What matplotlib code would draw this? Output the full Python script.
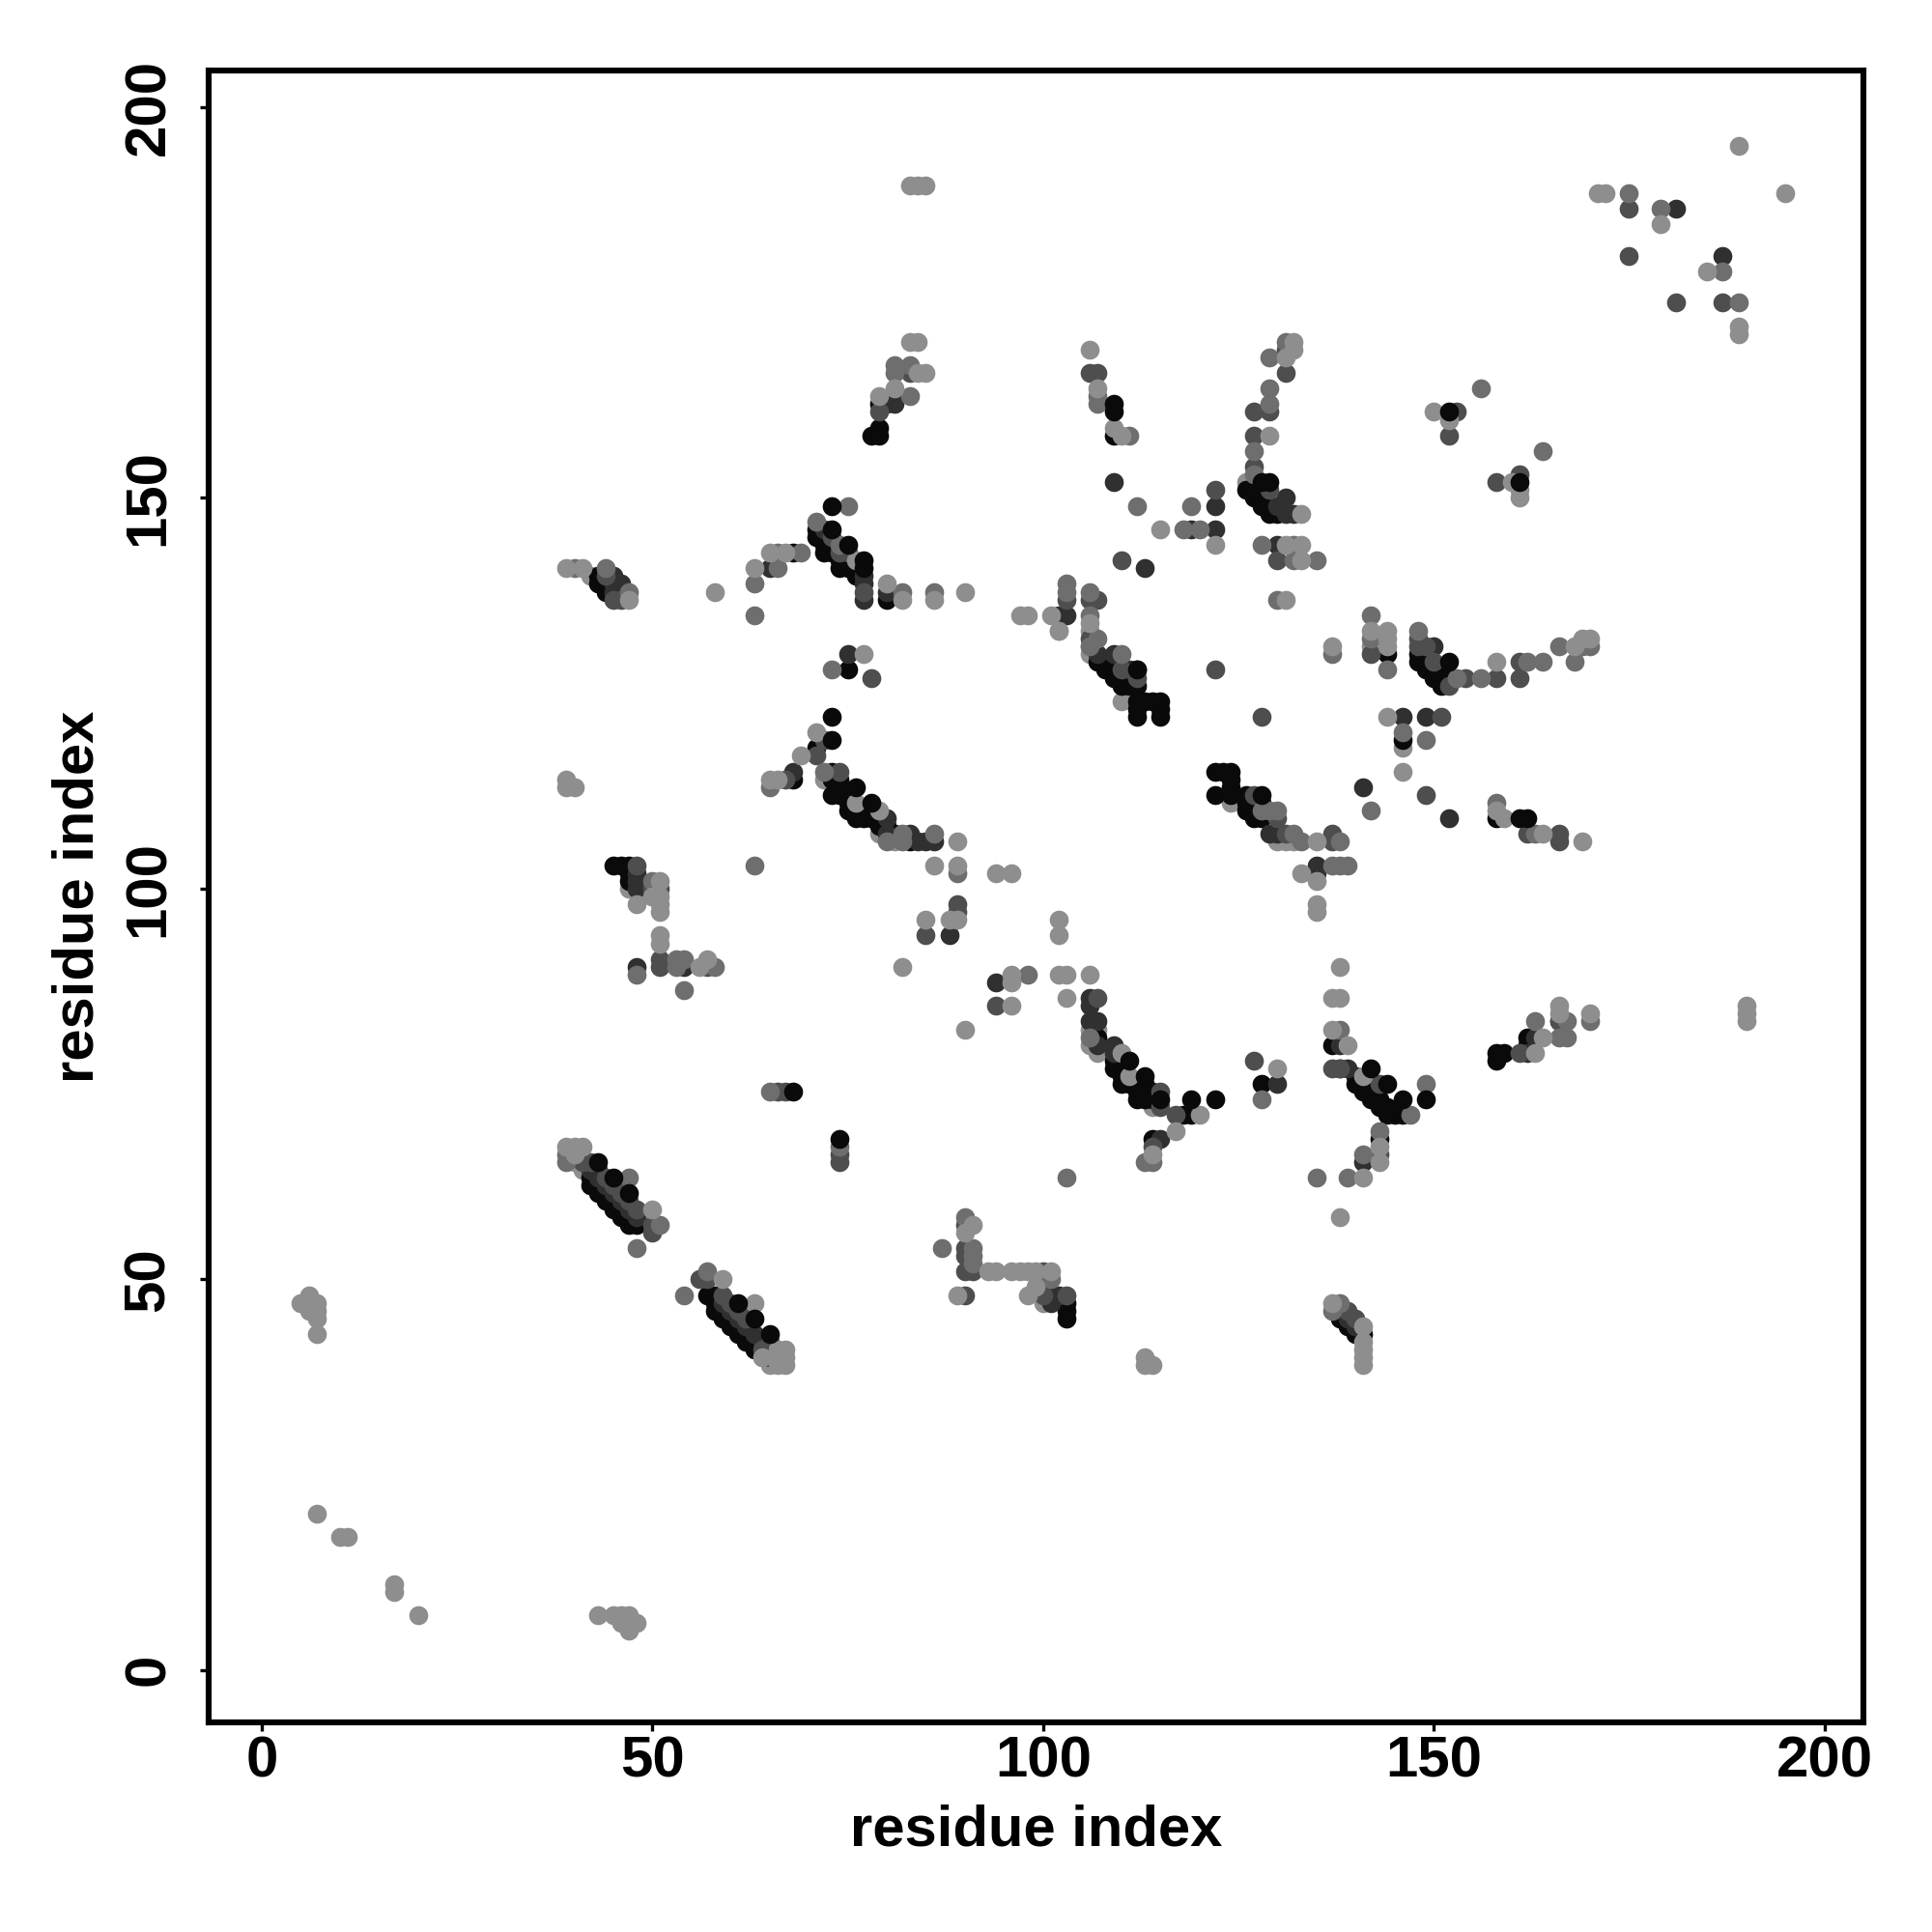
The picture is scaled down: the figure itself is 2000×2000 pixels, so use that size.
"""Residue contact map, points drawn in layers by contact strength."""
import matplotlib
matplotlib.use('Agg')
import matplotlib.pyplot as plt

# (residue i, residue j), one list per grey level
light_low = [
    (40, 65), (41, 64), (64, 40), (65, 39), (72, 114), (79, 107), (81, 106),
    (110, 124), (106, 130), (106, 131), (124, 111), (130, 106), (131, 106),
    (132, 106), (106, 80), (107, 79), (106, 82), (107, 82), (114, 72),
    (100, 47), (146, 118), (47, 100), (50, 99), (102, 133), (142, 131),
    (42, 140), (126, 152), (106, 133),
]
black = [
    # long diagonal bands
    (42, 62), (42, 63), (43, 62), (43, 61), (44, 60), (44, 61), (45, 60), (45, 59),
    (46, 58), (46, 59), (47, 58), (47, 57), (48, 57),
    (57, 48), (58, 48), (58, 47), (58, 46), (59, 46), (59, 45), (60, 45), (60, 44),
    (61, 44), (61, 43), (62, 43), (62, 42), (63, 42), (63, 41),
    (71, 145), (71, 146), (72, 143), (72, 144), (72, 145), (73, 144), (73, 143),
    (74, 141), (74, 142), (75, 142), (75, 141), (76, 140), (76, 141),
    (68, 143), (80, 137), (75, 128), (68, 114),
    (71, 118), (73, 115), (73, 114), (73, 112), (74, 113), (74, 114), (74, 112),
    (75, 112), (75, 111), (75, 110), (76, 110), (76, 109), (77, 109), (78, 109),
    (78, 110), (77, 110), (79, 108), (80, 108), (81, 107), (83, 106),
    (109, 78), (109, 77), (110, 77), (110, 76), (110, 75), (111, 75), (112, 75),
    (112, 74), (112, 73), (113, 73), (113, 74), (113, 75), (114, 73), (114, 74),
    (107, 81), (118, 71), (119, 71), (114, 68), (128, 75),
    (109, 128), (109, 127), (110, 127), (110, 126), (111, 126), (112, 126),
    (112, 124), (113, 124), (114, 124), (115, 124), (112, 123), (115, 123),
    (112, 122), (115, 122), (112, 128),
    (122, 115), (123, 115), (124, 115), (124, 114), (124, 113), (122, 112), (124, 112),
    (126, 112), (126, 111), (126, 110), (127, 110), (127, 109), (128, 109), (128, 111),
    (138, 77), (140, 76), (140, 75), (141, 75), (141, 74), (142, 74), (142, 73),
    (143, 73), (143, 72), (144, 72), (144, 71), (145, 71), (146, 71), (137, 80), (143, 68),
    (126, 151), (127, 151), (127, 150), (128, 150), (128, 149), (129, 149), (129, 148),
    (130, 148), (144, 130), (148, 130), (148, 129), (149, 129), (149, 128), (150, 128),
    (150, 127), (151, 127), (151, 126), (152, 127), (146, 119),
    (138, 45), (139, 45), (139, 44), (140, 44), (140, 43), (141, 43),
    (43, 140), (43, 139), (44, 139), (44, 138), (45, 103), (46, 103), (47, 103),
    (47, 102), (47, 101), (79, 162), (79, 159), (78, 158), (79, 158), (109, 158),
    (158, 109), (103, 47), (103, 46), (103, 45),
    (158, 79), (159, 79), (158, 78), (162, 81), (162, 80),
    (107, 129), (108, 128),
]
dark = [
    (43, 63), (44, 62), (45, 61), (46, 60), (47, 59), (48, 58), (42, 64), (43, 64),
    (59, 47), (60, 46), (61, 45), (62, 44), (63, 43), (64, 42), (65, 41), (65, 40),
    (72, 146), (77, 140), (77, 139), (77, 137), (80, 138), (65, 141), (75, 130),
    (68, 115), (80, 109), (80, 107), (83, 107), (85, 106), (86, 106), (84, 106),
    (94, 88), (88, 94), (113, 141), (102, 135), (103, 135), (109, 152), (122, 149),
    (119, 146), (122, 146), (106, 86), (106, 85), (106, 83), (107, 83), (107, 80),
    (109, 80), (109, 79), (115, 68), (130, 75), (141, 65), (138, 80), (139, 77),
    (141, 113), (152, 109), (129, 107), (130, 107), (135, 103), (135, 102),
    (131, 150), (130, 144), (131, 148), (132, 148), (130, 149), (150, 131),
    (107, 130), (111, 128), (109, 130), (48, 102), (48, 101), (48, 100), (48, 90),
    (54, 90), (45, 139), (46, 139), (45, 138), (45, 140), (80, 162), (81, 163), (81, 162),
    (146, 122), (181, 187), (187, 181), (149, 122),
    (101, 48), (102, 48), (101, 47), (163, 81), (162, 79), (166, 83), (139, 45), (140, 44),
]
mid = [
    (42, 65), (41, 65), (44, 63), (45, 62), (46, 61), (47, 60), (48, 59), (50, 57), (50, 56),
    (57, 50), (56, 50), (59, 48), (60, 47), (61, 46), (62, 45), (64, 41), (65, 42),
    (74, 66), (74, 65), (73, 145), (74, 143), (75, 143), (77, 138), (78, 127),
    (72, 119), (71, 117), (67, 114), (74, 115), (85, 94), (89, 98), (89, 97), (94, 85),
    (103, 137), (106, 137), (107, 137), (106, 132), (110, 142), (110, 128), (112, 127),
    (122, 128), (128, 122), (130, 142), (142, 130), (148, 132), (148, 131), (149, 131),
    (150, 129), (152, 126), (154, 127), (158, 127), (161, 129), (161, 127),
    (151, 122), (149, 112), (162, 107), (166, 107), (166, 106),
    (127, 112), (130, 109), (131, 107), (137, 107), (137, 106),
    (107, 86), (115, 74), (115, 72), (117, 71), (114, 67), (127, 78), (137, 77), (138, 77),
    (143, 75), (143, 66), (139, 46), (140, 45),
    (48, 103), (50, 100), (51, 100), (51, 91), (51, 90), (57, 90), (90, 48), (100, 48),
    (103, 48), (90, 57), (90, 54), (90, 53), (90, 51), (91, 51), (100, 51), (100, 50),
    (45, 137), (46, 137), (44, 140), (79, 161), (83, 166), (106, 166), (107, 166),
    (122, 151), (129, 161), (127, 161), (127, 158), (131, 169), (131, 166),
    (127, 154), (129, 151), (152, 158), (153, 161), (158, 152), (161, 153),
    (175, 187), (175, 181), (181, 175), (187, 175), (161, 79), (166, 83),
    (66, 74), (67, 74),
]
grey = [
    (39, 66), (39, 65), (47, 63), (48, 54), (51, 57), (54, 48), (57, 51), (74, 67),
    (71, 147), (74, 144), (75, 149), (63, 139), (63, 135), (63, 103), (66, 143), (69, 143),
    (66, 141), (82, 138), (86, 138), (73, 128), (65, 113), (72, 115), (80, 106), (82, 107),
    (82, 106), (86, 107), (89, 102), (98, 89), (103, 63), (65, 74),
    (103, 139), (103, 138), (106, 138), (106, 135), (107, 132), (106, 131), (110, 130),
    (130, 137), (128, 144), (132, 144), (132, 142), (135, 142), (137, 130), (142, 135),
    (142, 132), (144, 128), (148, 133), (153, 127), (156, 127), (162, 129), (164, 129),
    (166, 131), (168, 129), (169, 131), (170, 131), (146, 120), (149, 119), (142, 110),
    (158, 111), (163, 107), (128, 110), (129, 110), (130, 110), (132, 107), (133, 106),
    (138, 106), (137, 103), (138, 103), (139, 103), (106, 81), (113, 65), (114, 65),
    (128, 73), (138, 82), (149, 75), (147, 71), (143, 69), (141, 66), (139, 63), (135, 63),
    (137, 46), (138, 47), (48, 89), (50, 101), (53, 91), (54, 91), (53, 90), (58, 90),
    (54, 87), (47, 138), (44, 141), (81, 167), (81, 166), (83, 167), (83, 163),
    (107, 163), (107, 162), (111, 158), (112, 149), (118, 146), (120, 146), (119, 149),
    (129, 168), (129, 164), (129, 162), (131, 170), (127, 156), (127, 153),
    (156, 164), (164, 156), (175, 189), (179, 187), (187, 179), (189, 175),
    (163, 83), (167, 83), (166, 81), (167, 81), (170, 83),
    (90, 58), (87, 54), (91, 54), (91, 53), (101, 50),
    (91, 52), (40, 141),
]
light = [
    (39, 67), (40, 67), (41, 67), (40, 66), (50, 59), (59, 50), (63, 47), (64, 40),
    (66, 39), (67, 39), (66, 40), (67, 40), (66, 41), (67, 41), (76, 142),
    (63, 141), (65, 143), (67, 143), (58, 138), (80, 139), (82, 137), (86, 137),
    (90, 138), (77, 130), (71, 120), (69, 117), (66, 114), (65, 114), (76, 111), (79, 110),
    (89, 106), (89, 103), (86, 103), (94, 102), (96, 102), (85, 96), (88, 96), (89, 96),
    (82, 90), (90, 82), (96, 89), (96, 88), (96, 85), (102, 89), (103, 89), (106, 89),
    (103, 86), (102, 96), (102, 94), (97, 135), (98, 135), (101, 135), (106, 134), (102, 133),
    (115, 146), (122, 144), (129, 158), (131, 168), (132, 170), (132, 169),
    (131, 137), (131, 144), (133, 144), (133, 142), (133, 148), (142, 133), (144, 133),
    (144, 132), (144, 131), (137, 131), (158, 129), (168, 131), (169, 132), (170, 132),
    (144, 122), (146, 115), (158, 110), (159, 109), (164, 107), (169, 106),
    (135, 106), (133, 102), (135, 101), (135, 98), (135, 97), (110, 79), (111, 76),
    (117, 69), (114, 66), (120, 71), (130, 77), (138, 90), (137, 86), (138, 86), (137, 82),
    (139, 80), (141, 76), (143, 67), (143, 65), (141, 63), (138, 58), (137, 47), (141, 44),
    (141, 42), (141, 41), (141, 40), (141, 39),
    (39, 141), (41, 141), (47, 137), (39, 114), (39, 113), (40, 113),
    (48, 98), (51, 101), (50, 99), (51, 99), (51, 98), (51, 97), (51, 94), (51, 93),
    (56, 90), (57, 91), (83, 190), (84, 190), (85, 190), (83, 170), (84, 170), (84, 166),
    (85, 166), (81, 164), (79, 163), (106, 169), (107, 164), (109, 159), (110, 158),
    (150, 161), (152, 160), (160, 152), (161, 151), (161, 150), (164, 81), (163, 79),
    (166, 85), (166, 84),
    (170, 84), (190, 85), (190, 84), (190, 83), (189, 195), (171, 189), (172, 189), (179, 185),
    (185, 179), (189, 172), (189, 171), (195, 189),
    (5, 47), (6, 48), (7, 47), (6, 46), (7, 46), (7, 45), (7, 43), (7, 20), (10, 17), (11, 17),
    (17, 11), (17, 10), (20, 7), (43, 7), (45, 7), (46, 7), (47, 7), (48, 6), (47, 5), (46, 6),
    (93, 51), (94, 51), (96, 51), (97, 51), (98, 51), (99, 51), (101, 51), (99, 49), (98, 48),
    (89, 48), (91, 57), (90, 56), (113, 40), (113, 39), (114, 39),
]
black_top = [
    (43, 65), (45, 63), (47, 61), (61, 47), (63, 45), (65, 43), (74, 68), (73, 149),
    (73, 146), (75, 144), (77, 142), (77, 141), (73, 122), (73, 119), (76, 113), (78, 111),
    (111, 78), (113, 76), (115, 73), (119, 73), (122, 73), (128, 152), (129, 152),
    (142, 77), (144, 75), (146, 73), (149, 73), (152, 129), (112, 128), (128, 112),
    (109, 162), (109, 161), (152, 161), (161, 109), (162, 109), (161, 152), (68, 74),
]
layer_colors = ['#8e8e8e', '#0a0a0a', '#303030', '#4e4e4e', '#6e6e6e', '#8e8e8e', '#0a0a0a']
layers = [light_low, black, dark, mid, grey, light, black_top]

ticks = [0, 50, 100, 150, 200]
label = 'residue index'

plt.rcParams['font.family'] = ['Liberation Sans', 'DejaVu Sans']
plt.rcParams['font.weight'] = 'bold'

fig = plt.figure(figsize=(10, 10), dpi=200)
ax = fig.add_axes([216 / 2000, 217 / 2000, 1713 / 2000, 1710 / 2000])

for points, color in zip(layers, layer_colors):
    xs, ys = zip(*points)
    ax.scatter(xs, ys, s=50, c=color, linewidths=0, clip_on=False)

ax.set_xlim(-6.8, 205)
ax.set_ylim(-6.7, 204.7)
ax.set_xticks(ticks)
ax.set_yticks(ticks)
ax.tick_params(length=3.4, width=1.2, labelsize=21.6)
ax.tick_params(axis='x', pad=1.5)
ax.tick_params(axis='y', pad=8.8)
for t in ax.get_yticklabels():
    t.set_rotation(90)
    t.set_va('center')
for spine in ax.spines.values():
    spine.set_linewidth(2.2)

ax.set_xlabel(label, fontsize=21.5, fontweight='bold')
ax.set_ylabel(label, fontsize=21.5, fontweight='bold')
ax.xaxis.set_label_coords(0.5, -0.0495)
ax.yaxis.set_label_coords(-0.0625, 0.5)

fig.savefig('out.png', dpi=200)
